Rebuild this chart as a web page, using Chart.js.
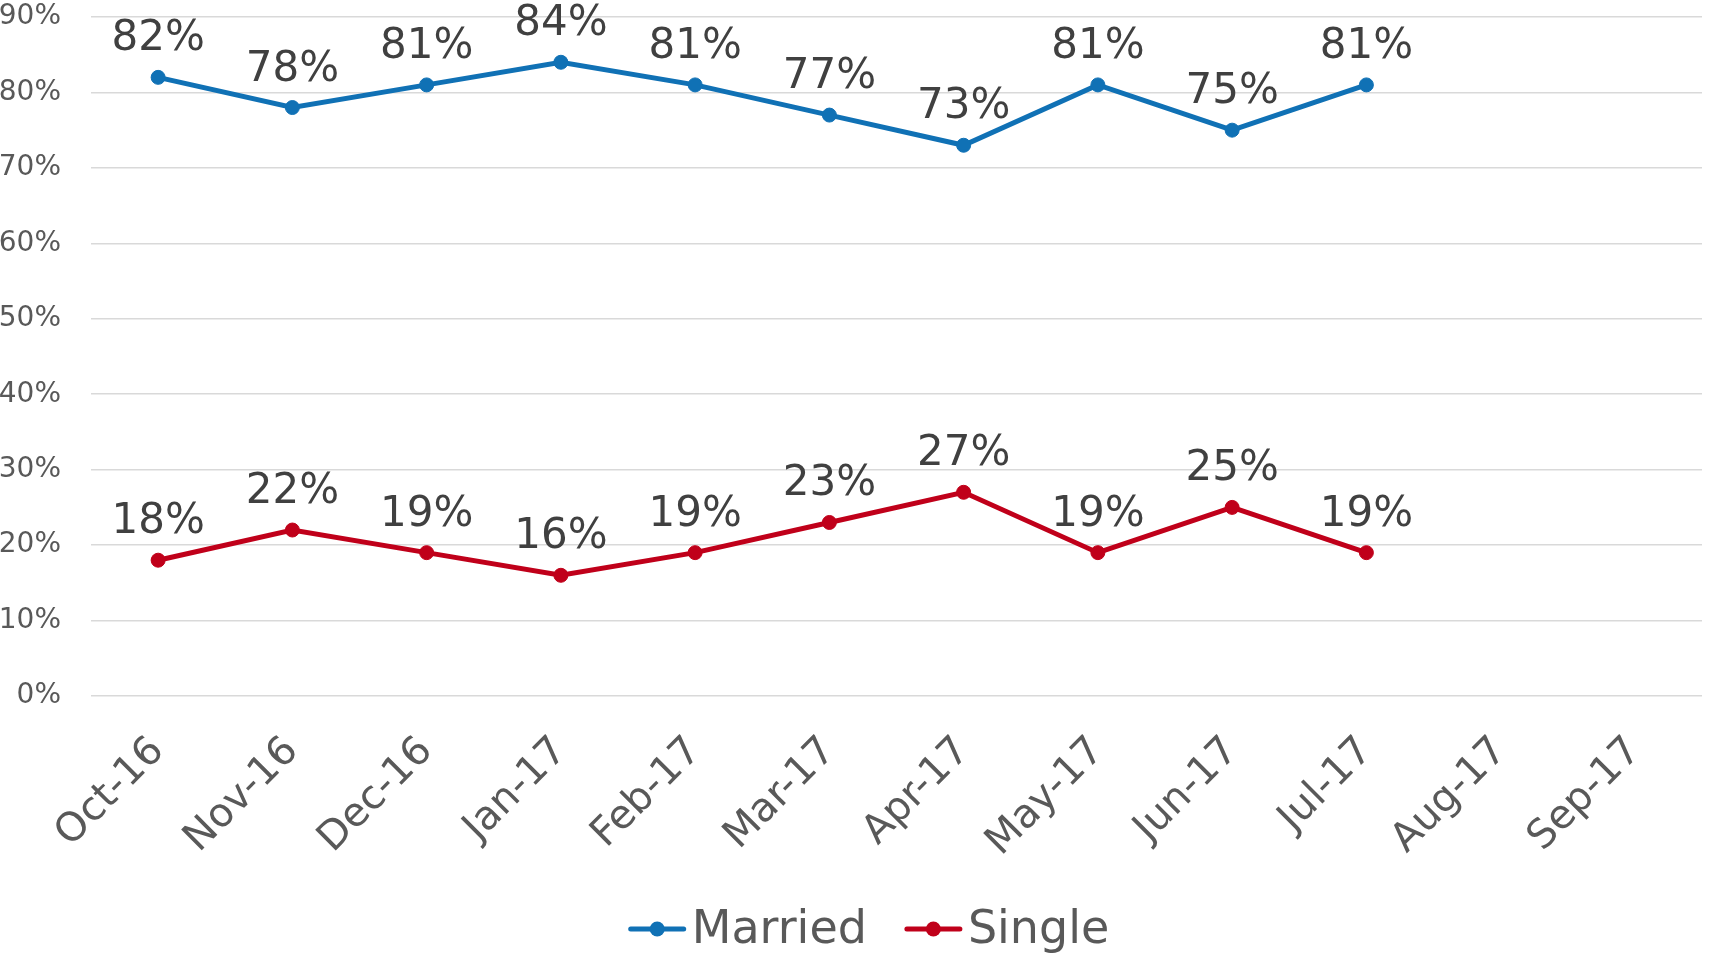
<!DOCTYPE html>
<html>
<head>
<meta charset="utf-8">
<title>Married vs Single</title>
<script src="https://cdn.jsdelivr.net/npm/chart.js@4/dist/chart.umd.min.js"></script>
<style>
  html, body { margin: 0; padding: 0; background: #fff; }
  #wrap { width: 1710px; height: 955px; }
</style>
</head>
<body>
<div id="wrap"><canvas id="statusChart"></canvas></div>
<script>
var months = ['Oct-16', 'Nov-16', 'Dec-16', 'Jan-17', 'Feb-17', 'Mar-17', 'Apr-17', 'May-17', 'Jun-17', 'Jul-17', 'Aug-17', 'Sep-17'];
var married = [82, 78, 81, 84, 81, 77, 73, 81, 75, 81, null, null];
var single = [18, 22, 19, 16, 19, 23, 27, 19, 25, 19, null, null];
var yTicks = [0, 10, 20, 30, 40, 50, 60, 70, 80, 90];

var BLUE = '#1071B5';
var RED = '#C0001A';
var FONT = "'DejaVu Sans', sans-serif";

// value labels above each point
var valueLabels = {
    id: 'valueLabels',
    afterDatasetsDraw: function (chart) {
        var ctx = chart.ctx;
        ctx.save();
        ctx.font = '42px ' + FONT;
        ctx.fillStyle = '#404040';
        ctx.textAlign = 'center';
        ctx.textBaseline = 'alphabetic';
        chart.data.datasets.forEach(function (ds, i) {
            chart.getDatasetMeta(i).data.forEach(function (pt, j) {
                if (ds.data[j] == null) return;
                ctx.fillText(ds.data[j] + '%', pt.x, pt.y - 27);
            });
        });
        ctx.restore();
    }
};

// legend: line-with-dot swatch + name, centred under the chart
var lineLegend = {
    id: 'lineLegend',
    afterDraw: function (chart) {
        var ctx = chart.ctx;
        var sw = 57, gapText = 6, gapItem = 38, cy = 929;
        ctx.save();
        ctx.font = '46px ' + FONT;
        var items = chart.data.datasets.map(function (ds) {
            return { text: ds.label, color: ds.borderColor, w: ctx.measureText(ds.label).width };
        });
        var total = 0;
        items.forEach(function (it, i) { total += sw + gapText + it.w + (i ? gapItem : 0); });
        var x = chart.width / 2 - total / 2 + 14;
        items.forEach(function (it) {
            ctx.strokeStyle = it.color;
            ctx.lineWidth = 5;
            ctx.lineCap = 'round';
            ctx.beginPath(); ctx.moveTo(x + 2, cy); ctx.lineTo(x + sw - 2, cy); ctx.stroke();
            ctx.fillStyle = it.color;
            ctx.beginPath(); ctx.arc(x + sw / 2, cy, 7.5, 0, Math.PI * 2); ctx.fill();
            ctx.fillStyle = '#595959';
            ctx.textAlign = 'left';
            ctx.textBaseline = 'middle';
            ctx.fillText(it.text, x + sw + gapText, cy + 2);
            x += sw + gapText + it.w + gapItem;
        });
        ctx.restore();
    }
};

var ctx = document.getElementById('statusChart').getContext('2d');
var statusChart = new Chart(ctx, {
    type: 'line',
    data: {
        labels: months,
        datasets: [
            {
                label: 'Married',
                data: married,
                borderColor: BLUE,
                backgroundColor: BLUE,
                borderWidth: 5,
                pointRadius: 7,
                pointBorderWidth: 1,
                pointHoverRadius: 7,
                tension: 0
            },
            {
                label: 'Single',
                data: single,
                borderColor: RED,
                backgroundColor: RED,
                borderWidth: 5,
                pointRadius: 7,
                pointBorderWidth: 1,
                pointHoverRadius: 7,
                tension: 0
            }
        ]
    },
    options: {
        responsive: true,
        maintainAspectRatio: false,
        animation: false,
        layout: { padding: { top: 17, right: 0, left: 0, bottom: 70 } },
        scales: {
            x: {
                offset: true,
                grid: { display: false },
                border: { display: false },
                ticks: {
                    color: '#595959',
                    font: { family: FONT, size: 40 },
                    minRotation: 45,
                    maxRotation: 45,
                    padding: 24
                },
                afterFit: function (s) {
                    s.height = 189;
                    s.paddingLeft = 0;
                    s.paddingRight = 0;
                }
            },
            y: {
                min: 0,
                max: 90,
                afterBuildTicks: function (s) {
                    s.ticks = yTicks.map(function (v) { return { value: v }; });
                },
                grid: { color: '#D9D9D9', lineWidth: 1.5, drawTicks: false },
                border: { display: false },
                ticks: {
                    color: '#595959',
                    font: { family: FONT, size: 28 },
                    padding: 30,
                    callback: function (v) { return v + '%'; }
                },
                afterFit: function (s) {
                    s.width = 91;
                    s.paddingTop = 0;
                    s.paddingBottom = 0;
                }
            }
        },
        plugins: {
            legend: { display: false },
            tooltip: { enabled: false }
        }
    },
    plugins: [valueLabels, lineLegend]
});
</script>
</body>
</html>
